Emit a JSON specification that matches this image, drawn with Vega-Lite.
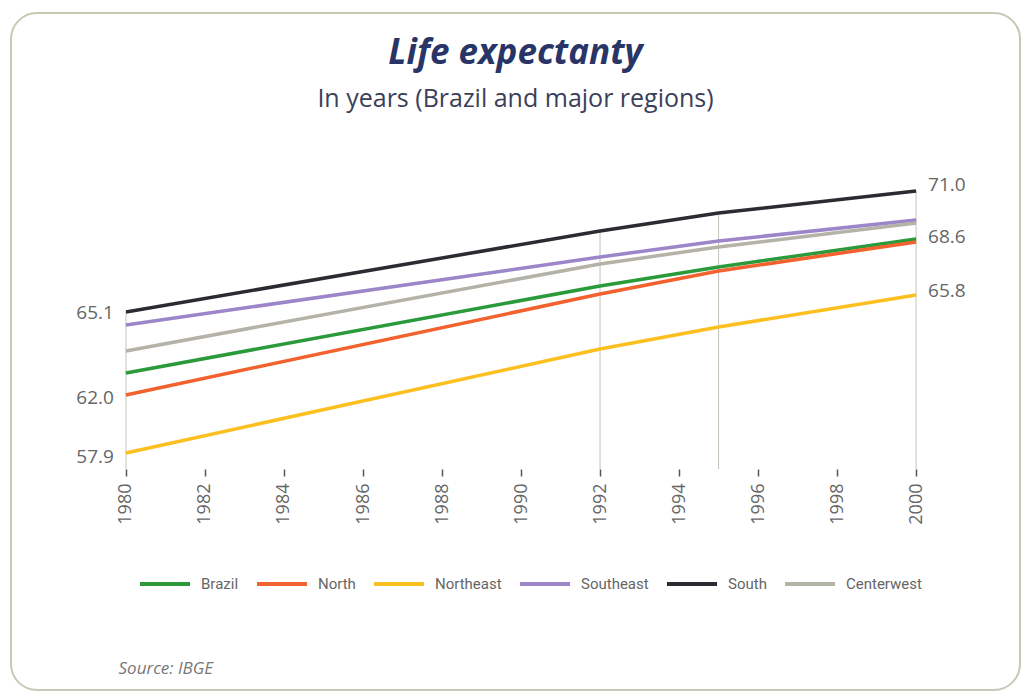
{
  "$schema": "https://vega.github.io/schema/vega-lite/v6.json",
  "width": 1009,
  "height": 677,
  "autosize": {"type": "none"},
  "padding": {"left": 11, "top": 13, "right": 3, "bottom": 6},
  "background": "white",
  "config": {
    "view": {"stroke": "#c9c8b6", "strokeWidth": 2, "cornerRadius": 26, "fill": "white"},
    "font": "Open Sans"
  },
  "title": {
    "text": "Life expectanty",
    "subtitle": "In years (Brazil and major regions)",
    "anchor": "middle",
    "frame": "group",
    "offset": -99,
    "font": "Open Sans",
    "fontSize": 35,
    "fontStyle": "italic",
    "fontWeight": "bold",
    "color": "#283566",
    "subtitleFont": "Open Sans",
    "subtitleFontSize": 25,
    "subtitleColor": "#3b3f5a",
    "subtitlePadding": 16
  },
  "datasets": {
    "lines": [
      {"region": "Brazil", "year": 1980, "value": 61.9},
      {"region": "Brazil", "year": 1992, "value": 66.25},
      {"region": "Brazil", "year": 1995, "value": 67.2},
      {"region": "Brazil", "year": 2000, "value": 68.6},
      {"region": "North", "year": 1980, "value": 60.8},
      {"region": "North", "year": 1992, "value": 65.85},
      {"region": "North", "year": 1995, "value": 67.0},
      {"region": "North", "year": 2000, "value": 68.45},
      {"region": "Northeast", "year": 1980, "value": 57.9},
      {"region": "Northeast", "year": 1992, "value": 63.1},
      {"region": "Northeast", "year": 1995, "value": 64.2},
      {"region": "Northeast", "year": 2000, "value": 65.8},
      {"region": "Southeast", "year": 1980, "value": 64.3},
      {"region": "Southeast", "year": 1992, "value": 67.7},
      {"region": "Southeast", "year": 1995, "value": 68.5},
      {"region": "Southeast", "year": 2000, "value": 69.55},
      {"region": "South", "year": 1980, "value": 64.95},
      {"region": "South", "year": 1992, "value": 69.0},
      {"region": "South", "year": 1995, "value": 69.9},
      {"region": "South", "year": 2000, "value": 71.0},
      {"region": "Centerwest", "year": 1980, "value": 63.0},
      {"region": "Centerwest", "year": 1992, "value": 67.35},
      {"region": "Centerwest", "year": 1995, "value": 68.2},
      {"region": "Centerwest", "year": 2000, "value": 69.4}
    ],
    "labels": [
      {"side": "left", "year": 1980, "value": 64.9, "label": "65.1"},
      {"side": "left", "year": 1980, "value": 60.65, "label": "62.0"},
      {"side": "left", "year": 1980, "value": 57.7, "label": "57.9"},
      {"side": "right", "year": 2000, "value": 71.3, "label": "71.0"},
      {"side": "right", "year": 2000, "value": 68.7, "label": "68.6"},
      {"side": "right", "year": 2000, "value": 66.0, "label": "65.8"}
    ]
  },
  "data": {"name": "lines"},
  "encoding": {
    "x": {
      "field": "year",
      "type": "quantitative",
      "scale": {"domain": [1977.09, 2002.63], "nice": false, "zero": false},
      "axis": {
        "values": [1980, 1982, 1984, 1986, 1988, 1990, 1992, 1994, 1996, 1998, 2000],
        "format": "d",
        "labelAngle": -90,
        "labelAlign": "right",
        "labelBaseline": "middle",
        "labelFont": "Open Sans",
        "labelFontSize": 18,
        "labelColor": "#666666",
        "labelPadding": 7,
        "domain": false,
        "grid": false,
        "ticks": true,
        "tickSize": 7,
        "tickColor": "#555555",
        "tickWidth": 1.5,
        "offset": -221,
        "title": "Source: IBGE",
        "titleFont": "Open Sans",
        "titleFontSize": 17,
        "titleFontStyle": "italic",
        "titleFontWeight": "normal",
        "titleColor": "#777777",
        "titleAlign": "left",
        "titleAnchor": "start",
        "titleBaseline": "alphabetic",
        "titleX": 107,
        "titleY": 204
      }
    },
    "y": {
      "field": "value",
      "type": "quantitative",
      "scale": {"domain": [46.05, 79.9], "nice": false, "zero": false},
      "axis": null
    }
  },
  "layer": [
    {
      "transform": [
        {"filter": "datum.region === 'South'"}
      ],
      "mark": {"type": "rule", "color": "#c4c3b8", "strokeWidth": 1},
      "encoding": {
        "y2": {"datum": 57.1}
      }
    },
    {
      "data": {"values": [{"k": 1}]},
      "mark": {"type": "rule", "color": "#666666", "strokeWidth": 1.5},
      "encoding": {
        "x": {"datum": 1980},
        "x2": {"datum": 2000},
        "y": {"datum": 57.1}
      }
    },
    {
      "mark": {"type": "line", "strokeWidth": 3.5},
      "encoding": {
        "color": {
          "field": "region",
          "type": "nominal",
          "scale": {
            "domain": ["Brazil", "North", "Northeast", "Southeast", "South", "Centerwest"],
            "range": ["#2a9a3a", "#f2612e", "#fbbf1f", "#9d85c9", "#2e2a32", "#b5b3a8"]
          },
          "legend": {
            "orient": "none",
            "legendX": 127,
            "legendY": 544,
            "direction": "horizontal",
            "columns": 6,
            "title": null,
            "symbolType": "stroke",
            "symbolSize": 2500,
            "symbolStrokeWidth": 4,
            "labelFont": "Roboto",
            "labelFontSize": 15,
            "labelColor": "#666666",
            "labelOffset": 9,
            "columnPadding": 10,
            "padding": 0
          }
        }
      }
    },
    {
      "data": {"name": "labels"},
      "transform": [{"filter": "datum.side === 'left'"}],
      "mark": {"type": "text", "align": "right", "baseline": "middle", "dx": -12, "fontSize": 19, "color": "#666666", "font": "Open Sans"},
      "encoding": {"text": {"field": "label"}}
    },
    {
      "data": {"name": "labels"},
      "transform": [{"filter": "datum.side === 'right'"}],
      "mark": {"type": "text", "align": "left", "baseline": "middle", "dx": 12, "fontSize": 19, "color": "#666666", "font": "Open Sans"},
      "encoding": {"text": {"field": "label"}}
    }
  ]
}
